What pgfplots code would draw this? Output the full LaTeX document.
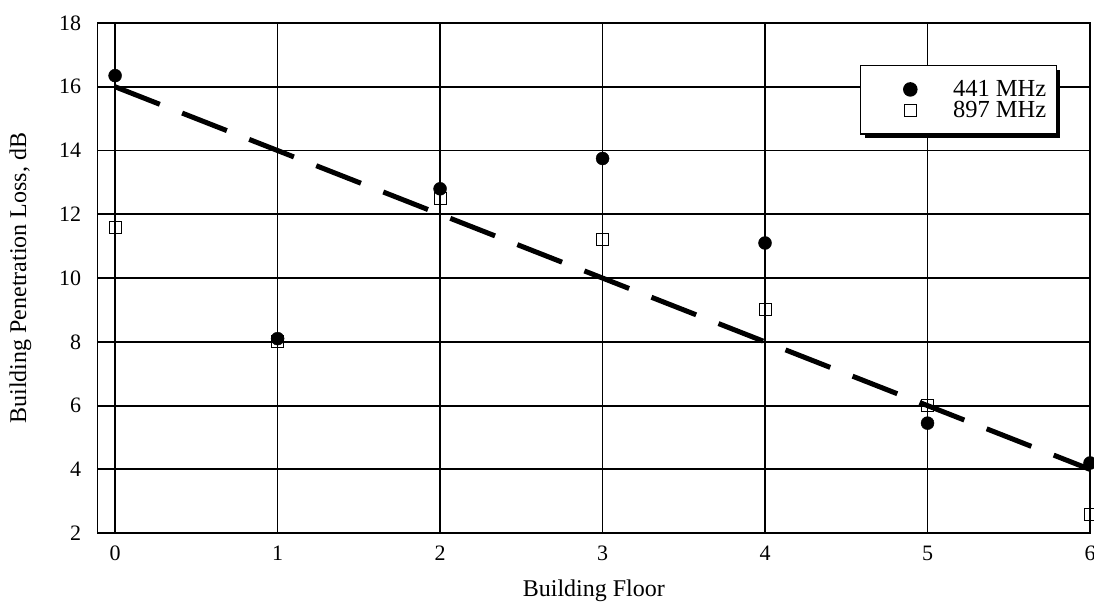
\documentclass[border=0pt]{standalone}
\usepackage{pgfplots}
\pgfplotsset{compat=1.18}
\usepackage{fontspec}
\setmainfont{Liberation Serif}
\usetikzlibrary{shadows}
\begin{document}
\begin{tikzpicture}
\begin{axis}[
  name=ax,
  scale only axis,
  width=992pt, height=510pt,
  xmin=-0.107, xmax=6.0,
  ymin=2, ymax=18,
  xtick={0,1,2,3,4,5,6},
  ytick={2,4,6,8,10,12,14,16,18},
  /pgf/number format/assume math mode=true,
  tick label style={font=\fontsize{22}{26}\selectfont},
  yticklabel style={xshift=-13pt},
  xticklabel style={yshift=-9pt},
  major tick length=0pt,
  grid=major,
  major grid style={black, line width=1.8pt},
  axis line style={black, line width=1.3pt},
  xlabel={Building Floor},
  ylabel={Building Penetration Loss, dB},
  label style={font=\fontsize{24}{28}\selectfont},
  xlabel style={at={(axis description cs:0.5,-0.112)}, anchor=center},
  ylabel style={at={(axis description cs:-0.078,0.5)}, anchor=center},
  reverse legend,
  legend style={at={(axis description cs:0.768,0.918)}, anchor=north west,
    draw=black, line width=1.5pt, fill=white,
    drop shadow={shadow xshift=4pt, shadow yshift=-4pt, fill=black, opacity=1},
    font=\fontsize{24.5}{24.5}\selectfont,
    nodes={inner ysep=0pt},
    inner xsep=8pt, inner ysep=15pt, row sep=3pt, column sep=21pt},
  legend image code/.code={\path (0pt,0pt) (60pt,0pt); \draw[mark repeat=2,mark phase=2,#1] plot coordinates {(0pt,0pt) (41pt,0pt) (60pt,0pt)};},
]
\addplot[only marks, mark=square, mark size=6pt, mark options={black, line width=1pt, fill=white}]
  coordinates {(0,11.6) (1,8.0) (2,12.5) (3,11.2) (4,9.0) (5,6.0) (6,2.6)};
\addlegendentry{897 MHz}
\addplot[only marks, mark=*, mark size=6.5pt, mark options={black, fill=black}]
  coordinates {(0,16.35) (1,8.1) (2,12.8) (3,13.75) (4,11.1) (5,5.45) (6,4.2)};
\addlegendentry{441 MHz}
\addplot[black, line width=5pt, dash pattern=on 48pt off 24pt, forget plot]
  coordinates {(0,16) (6,4)};
\end{axis}
\pgfresetboundingbox
\path ([shift={(-97.7pt,-68pt)}]ax.south west) rectangle ([shift={(4pt,23pt)}]ax.north east);
\end{tikzpicture}
\end{document}
